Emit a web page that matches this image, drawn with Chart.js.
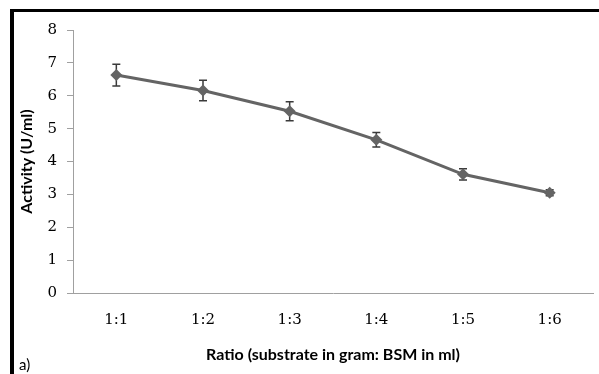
<!DOCTYPE html>
<html>
<head>
<meta charset="utf-8">
<script src="https://cdn.jsdelivr.net/npm/chart.js@4"></script>
<style>
  html, body { margin: 0; padding: 0; background: #fff; overflow: hidden; }
  #wrap { position: relative; width: 599px; height: 374px; }
  #borderLeft { position: absolute; left: 10px; top: 9px; width: 4px; height: 365px; background: #000; }
  #borderTop { position: absolute; left: 10px; top: 9px; width: 589px; height: 3px; background: #000; }
  #panel { position: absolute; left: 19px; top: 355px; font: 15px Lato, sans-serif; color: #000; }
  canvas { position: absolute; left: 0; top: 0; }
</style>
</head>
<body>
<div id="wrap">
  <canvas id="grafico" width="599" height="374"></canvas>
  <div id="borderLeft"></div>
  <div id="borderTop"></div>
  <div id="panel">a)</div>
</div>
<script>
// dados
const ratios = ['1:1', '1:2', '1:3', '1:4', '1:5', '1:6'];
const activity = [6.63, 6.16, 5.53, 4.66, 3.61, 3.05];
const erro = [0.33, 0.31, 0.29, 0.22, 0.17, 0.09];
const yTicks = [0, 1, 2, 3, 4, 5, 6, 7, 8];

// barras de erro
const errorBars = {
  id: 'errorBars',
  beforeDatasetsDraw(chart) {
    const ctx = chart.ctx;
    const x = chart.scales.x, y = chart.scales.y;
    ctx.save();
    ctx.strokeStyle = '#3a3a3a';
    ctx.lineWidth = 1.5;
    activity.forEach((v, i) => {
      const px = x.getPixelForValue(i);
      const top = y.getPixelForValue(v + erro[i]);
      const bot = y.getPixelForValue(v - erro[i]);
      ctx.beginPath();
      ctx.moveTo(px, top); ctx.lineTo(px, bot);
      ctx.moveTo(px - 4, top); ctx.lineTo(px + 4, top);
      ctx.moveTo(px - 4, bot); ctx.lineTo(px + 4, bot);
      ctx.stroke();
    });
    ctx.restore();
  }
};

new Chart(document.getElementById('grafico'), {
  type: 'line',
  data: {
    labels: ratios,
    datasets: [{
      data: activity,
      borderColor: '#646464',
      backgroundColor: '#646464',
      borderWidth: 3,
      pointStyle: 'rectRot',
      pointRadius: 6,
      pointBorderWidth: 0,
      tension: 0
    }]
  },
  options: {
    responsive: false,
    animation: false,
    layout: { padding: { top: 30, right: 0, bottom: 0, left: 0 } },
    plugins: { legend: { display: false }, tooltip: { enabled: false } },
    scales: {
      x: {
        offset: true,
        grid: { display: false, drawOnChartArea: false, drawTicks: true, tickLength: 6, offset: true, color: '#a0a0a0' },
        border: { color: '#a0a0a0', width: 1 },
        ticks: { color: '#000', font: { family: 'DejaVu Serif', size: 15 }, padding: 12 },
        title: { display: true, text: 'Ratio (substrate in gram: BSM in ml)', color: '#000',
                 font: { family: 'Lato', size: 16, weight: 'bold' }, padding: 10 },
        afterFit(s) { s.height = 81; }
      },
      y: {
        min: 0, max: 8,
        afterBuildTicks(s) { s.ticks = yTicks.map(v => ({ value: v })); },
        grid: { drawOnChartArea: false, tickLength: 6, color: '#a0a0a0' },
        border: { color: '#a0a0a0', width: 1 },
        ticks: { color: '#000', font: { family: 'DejaVu Serif', size: 15 }, padding: 10 },
        title: { display: true, text: 'Activity (U/ml)', color: '#000',
                 font: { family: 'Lato', size: 16, weight: 'bold' }, padding: { top: 17 } },
        afterFit(s) { s.width = 73; }
      }
    }
  },
  plugins: [errorBars]
});
</script>
</body>
</html>
